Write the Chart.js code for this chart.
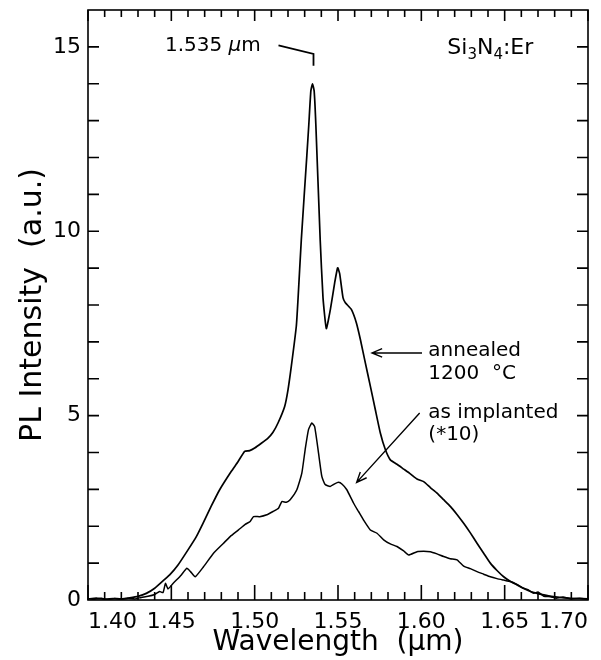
<!DOCTYPE html>
<html>
<head>
<meta charset="utf-8">
<script src="https://cdn.jsdelivr.net/npm/chart.js@4.4.1/dist/chart.umd.min.js"></script>
<style>
  body { margin: 0; background: #fff; }
  #wrap { width: 601px; height: 660px; }
</style>
</head>
<body>
<div id="wrap"><canvas id="plChart"></canvas></div>
<script>
// annealed 1200 C
const annealedWl = [1.400, 1.405, 1.410, 1.415, 1.420, 1.425, 1.430, 1.435, 1.440, 1.445,
    1.449, 1.454, 1.460, 1.465, 1.469, 1.474, 1.479, 1.486, 1.490, 1.494,
    1.497, 1.500, 1.504, 1.508, 1.511, 1.514, 1.518, 1.520, 1.522, 1.525,
    1.526, 1.528, 1.5313, 1.5325, 1.5337, 1.5347, 1.5357, 1.5367, 1.5393, 1.541, 1.543,
    1.5455, 1.548, 1.5498, 1.551, 1.553, 1.5544, 1.558, 1.561, 1.5634, 1.5664,
    1.5694, 1.5724, 1.5754, 1.5784, 1.5814, 1.5854, 1.5894, 1.5934, 1.5974, 1.6014,
    1.6054, 1.6094, 1.6134, 1.6174, 1.6214, 1.6254, 1.6294, 1.6334, 1.6374, 1.6414,
    1.6454, 1.6494, 1.6535, 1.6575, 1.6615, 1.6655, 1.6695, 1.6735, 1.678, 1.683,
    1.688, 1.693, 1.700];
const annealedPL = [0.03, 0.05, 0.02, 0.04, 0.03, 0.06, 0.10, 0.18, 0.32, 0.52,
    0.68, 0.95, 1.36, 1.72, 2.08, 2.55, 2.99, 3.49, 3.75, 4.03,
    4.05, 4.12, 4.25, 4.39, 4.55, 4.80, 5.25, 5.70, 6.34, 7.43,
    8.15, 9.78, 12.05, 12.9, 13.8, 14.0, 13.8, 12.9, 9.78, 8.2, 7.36,
    7.9, 8.6, 9.01, 8.85, 8.2, 8.06, 7.88, 7.52, 7.07, 6.43,
    5.80, 5.16, 4.53, 4.08, 3.80, 3.68, 3.55, 3.42, 3.28, 3.21,
    3.05, 2.90, 2.72, 2.54, 2.32, 2.08, 1.82, 1.54, 1.27, 1.00,
    0.80, 0.63, 0.50, 0.41, 0.31, 0.23, 0.18, 0.14, 0.10, 0.07,
    0.05, 0.04, 0.03];

// as implanted (*10)
const implantedWl = [1.400, 1.404, 1.408, 1.412, 1.416, 1.420, 1.424, 1.428, 1.432, 1.436,
    1.440, 1.443, 1.445, 1.4465, 1.448, 1.451, 1.453, 1.456, 1.4593, 1.4615,
    1.4643, 1.4693, 1.4753, 1.4813, 1.4853, 1.4903, 1.4943, 1.4973, 1.4993, 1.503,
    1.5073, 1.511, 1.5143, 1.5163, 1.519, 1.5213, 1.5253, 1.5283, 1.5303, 1.5323,
    1.5343, 1.536, 1.5383, 1.5403, 1.5423, 1.5453, 1.548, 1.5503, 1.5525, 1.5553,
    1.5593, 1.5623, 1.5653, 1.5694, 1.5734, 1.5774, 1.5814, 1.5854, 1.5894, 1.5924,
    1.5974, 1.6014, 1.6054, 1.6094, 1.6134, 1.6174, 1.6214, 1.6254, 1.6294, 1.6334,
    1.6374, 1.6414, 1.6454, 1.6494, 1.6535, 1.6574, 1.6614, 1.664, 1.6675, 1.670,
    1.6735, 1.6775, 1.681, 1.685, 1.690, 1.695, 1.700];
const implantedPL = [0.04, 0.02, 0.05, 0.01, 0.04, 0.02, 0.05, 0.03, 0.07, 0.10,
    0.15, 0.23, 0.20, 0.45, 0.30, 0.45, 0.54, 0.68, 0.86, 0.77,
    0.63, 0.90, 1.27, 1.54, 1.72, 1.90, 2.05, 2.13, 2.26, 2.26,
    2.31, 2.40, 2.49, 2.67, 2.65, 2.72, 2.99, 3.44, 4.08, 4.62,
    4.80, 4.70, 3.99, 3.35, 3.13, 3.08, 3.15, 3.19, 3.14, 2.99,
    2.63, 2.40, 2.17, 1.90, 1.81, 1.63, 1.52, 1.45, 1.33, 1.22,
    1.31, 1.32, 1.31, 1.25, 1.18, 1.12, 1.09, 0.92, 0.85, 0.77,
    0.70, 0.63, 0.58, 0.54, 0.50, 0.42, 0.32, 0.28, 0.18, 0.22,
    0.10, 0.09, 0.05, 0.08, 0.03, 0.05, 0.02];

const xTickLabels = [1.40, 1.45, 1.50, 1.55, 1.60, 1.65, 1.70];
const yTickLabels = [0, 5, 10, 15];

const FONT = '"DejaVu Sans", "Liberation Sans", sans-serif';

const toPoints = (xs, ys) => xs.map((x, i) => ({ x: x, y: ys[i] }));

function arrow(ctx, x1, y1, x2, y2) {
    const ang = Math.atan2(y2 - y1, x2 - x1);
    const h = 11;
    ctx.beginPath();
    ctx.moveTo(x1, y1);
    ctx.lineTo(x2, y2);
    ctx.moveTo(x2 - h * Math.cos(ang - 0.4), y2 - h * Math.sin(ang - 0.4));
    ctx.lineTo(x2, y2);
    ctx.lineTo(x2 - h * Math.cos(ang + 0.4), y2 - h * Math.sin(ang + 0.4));
    ctx.stroke();
}

// frame with inward ticks, x tick labels, plus the notes
const framePlugin = {
    id: "frame",
    afterDatasetsDraw(chart) {
        const { ctx, chartArea: a, scales: { x, y } } = chart;
        const P = (xv, yv) => [x.getPixelForValue(xv), y.getPixelForValue(yv)];
        ctx.save();
        ctx.strokeStyle = "#000";
        ctx.lineWidth = 1.6;
        ctx.strokeRect(a.left, a.top, a.right - a.left, a.bottom - a.top);
        ctx.beginPath();
        for (let i = 0; i <= 30; i++) {
            const px = x.getPixelForValue(1.40 + i * 0.01);
            const major = i % 5 === 0;
            ctx.moveTo(px, a.bottom);
            ctx.lineTo(px, a.bottom - (major ? 15 : 8));
            ctx.moveTo(px, a.top);
            ctx.lineTo(px, a.top + (major ? 11 : 7));
        }
        for (let v = 1; v < 16; v++) {
            const py = y.getPixelForValue(v);
            ctx.moveTo(a.left, py);
            ctx.lineTo(a.left + 11, py);
            ctx.moveTo(a.right, py);
            ctx.lineTo(a.right - 11, py);
        }
        ctx.stroke();

        ctx.fillStyle = "#000";
        ctx.textBaseline = "middle";

        // x tick labels, first and last kept inside the frame
        ctx.font = "22px " + FONT;
        xTickLabels.forEach((v, i) => {
            ctx.textAlign = i === 0 ? "left" : i === xTickLabels.length - 1 ? "right" : "center";
            ctx.fillText(v.toFixed(2), x.getPixelForValue(v), a.bottom + 22);
        });

        ctx.textAlign = "left";

        // peak label
        let [tx, ty] = P(1.4462, 15.03);
        ctx.font = "20px " + FONT;
        ctx.fillText("1.535 ", tx, ty);
        tx += ctx.measureText("1.535 ").width;
        ctx.font = "italic 20px " + FONT;
        ctx.fillText("\u00b5", tx, ty);
        tx += ctx.measureText("\u00b5").width;
        ctx.font = "20px " + FONT;
        ctx.fillText("m", tx, ty);
        ctx.lineWidth = 1.8;
        ctx.beginPath();
        ctx.moveTo(...P(1.5143, 15.04));
        ctx.lineTo(...P(1.5353, 14.81));
        ctx.lineTo(...P(1.5353, 14.49));
        ctx.stroke();

        // sample
        [tx, ty] = P(1.6156, 14.95);
        const parts = [["Si", false], ["3", true], ["N", false], ["4", true], [":Er", false]];
        parts.forEach(([s, sub]) => {
            ctx.font = (sub ? "15px " : "22px ") + FONT;
            ctx.fillText(s, tx, sub ? ty + 6 : ty);
            tx += ctx.measureText(s).width;
        });

        // curve notes
        ctx.font = "20px " + FONT;
        [tx, ty] = P(1.6042, 6.75);
        ctx.fillText("annealed", tx, ty);
        [tx, ty] = P(1.6042, 6.14);
        ctx.fillText("1200  \u00b0C", tx, ty);
        [tx, ty] = P(1.6042, 5.07);
        ctx.fillText("as implanted", tx, ty);
        [tx, ty] = P(1.6042, 4.48);
        ctx.fillText("(*10)", tx, ty);

        ctx.lineWidth = 1.4;
        arrow(ctx, ...P(1.6004, 6.70), ...P(1.5704, 6.70));
        arrow(ctx, ...P(1.5990, 5.07), ...P(1.5612, 3.19));
        ctx.restore();
    }
};

const plCtx = document.getElementById("plChart").getContext("2d");
const plChart = new Chart(plCtx, {
    type: "scatter",
    data: {
        datasets: [
            {
                label: "annealed 1200 \u00b0C",
                data: toPoints(annealedWl, annealedPL),
                showLine: true,
                borderColor: "#000",
                borderWidth: 1.7,
                pointRadius: 0,
                tension: 0.15,
            },
            {
                label: "as implanted (*10)",
                data: toPoints(implantedWl, implantedPL),
                showLine: true,
                borderColor: "#000",
                borderWidth: 1.5,
                pointRadius: 0,
                tension: 0.15,
            },
        ],
    },
    options: {
        responsive: true,
        maintainAspectRatio: false,
        animation: false,
        layout: {
            padding: { top: 10, right: 13, left: 0, bottom: 0 },
        },
        plugins: {
            legend: { display: false },
            tooltip: { enabled: false },
        },
        scales: {
            x: {
                type: "linear",
                min: 1.40,
                max: 1.70,
                afterBuildTicks: (s) => {
                    s.ticks = xTickLabels.map((v) => ({ value: v }));
                },
                afterFit: (s) => {
                    s.height = 60;
                    s.paddingLeft = 0;
                    s.paddingRight = 0;
                },
                grid: { display: false, drawTicks: false },
                border: { display: false },
                ticks: { display: false },
                title: {
                    display: true,
                    text: "Wavelength  (\u00b5m)",
                    color: "#000",
                    font: { family: FONT, size: 28 },
                    padding: { top: 0, bottom: 0 },
                },
            },
            y: {
                min: 0,
                max: 16,
                afterBuildTicks: (s) => {
                    s.ticks = yTickLabels.map((v) => ({ value: v }));
                },
                afterFit: (s) => {
                    s.width = 88;
                    s.paddingTop = 0;
                    s.paddingBottom = 0;
                },
                grid: { display: false, drawTicks: false },
                border: { display: false },
                ticks: {
                    padding: 7,
                    color: "#000",
                    font: { family: FONT, size: 22 },
                },
                title: {
                    display: true,
                    text: "PL Intensity  (a.u.)",
                    color: "#000",
                    font: { family: FONT, size: 30 },
                    padding: { top: 15, bottom: 0 },
                },
            },
        },
    },
    plugins: [framePlugin],
});
</script>
</body>
</html>
